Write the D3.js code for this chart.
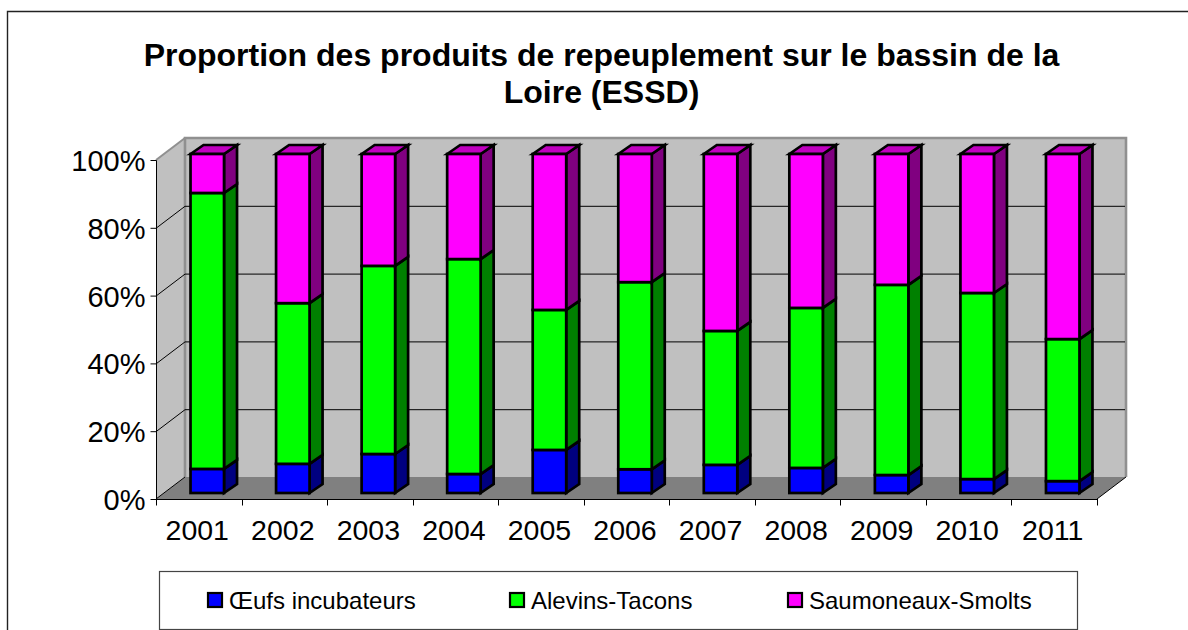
<!DOCTYPE html>
<html><head><meta charset="utf-8">
<script src="https://cdn.jsdelivr.net/npm/d3@7"></script>
<style>html,body{margin:0;padding:0;background:#fff;overflow:hidden}svg{display:block}text{font-family:"Liberation Sans",Arial,sans-serif;fill:#000}</style>
</head><body><svg id="c" width="1188" height="630"></svg>
<script>
const titleLines = ["Proportion des produits de repeuplement sur le bassin de la", "Loire (ESSD)"];
const years = ["2001","2002","2003","2004","2005","2006","2007","2008","2009","2010","2011"];
const seriesNames = ["Œufs incubateurs","Alevins-Tacons","Saumoneaux-Smolts"];
const oeufs = [7.1,8.6,11.5,5.6,12.7,7.0,8.3,7.4,5.3,4.1,3.5];
const alevins = [81.4,47.4,55.5,63.4,41.3,55.2,39.5,47.2,56.1,54.9,41.9];
const smolts = [11.5,44.0,33.0,31.0,46.0,37.8,52.2,45.4,38.6,41.0,54.6];
const faceColors = ["#0000ff","#00ff00","#ff00ff"];
const sideColors = ["#000080","#008000","#800080"];
const topColors = ["#0000c0","#00c000","#c000c0"];
const yTicks = [0,20,40,60,80,100];

const svg = d3.select("#c");
const x = d3.scaleBand().domain(years).range([156,1097]).paddingInner(0).paddingOuter(0);
const y = d3.scaleLinear().domain([0,100]).range([499,160]);
const depth = {x:29, y:-22};
const barOff = {x:8.5, y:-6};
const barDepth = {x:13, y:-9};
const barW = 33.5;
const stacks = [oeufs, alevins, smolts];

// chart frame: open on the right and at the bottom
svg.append("path").attr("d","M7.5,630V11.5H1188").attr("fill","none").attr("stroke","#222").attr("stroke-width",1.4);

// title
svg.append("g").selectAll("text").data(titleLines).join("text")
  .attr("x",601.5).attr("y",(d,i)=>66+i*37).attr("text-anchor","middle")
  .attr("font-size",32).attr("font-weight","bold").text(d=>d);

const x0=x.range()[0], x1=x.range()[1], yb=y(0), yt=y(100);
// walls
svg.append("path").attr("d",`M${x0},${yb}L${x0},${yt}L${x0+depth.x},${yt+depth.y}L${x0+depth.x},${yb+depth.y}Z`).attr("fill","#c0c0c0");
svg.append("rect").attr("x",x0+depth.x).attr("y",yt+depth.y).attr("width",x1-x0).attr("height",yb-yt).attr("fill","#c0c0c0");
svg.append("path").attr("d",`M${x0},${yb}L${x1},${yb}L${x1+depth.x},${yb+depth.y}L${x0+depth.x},${yb+depth.y}Z`).attr("fill","#808080");
// wall edges
svg.append("path").attr("d",`M${x0+depth.x},${yb+depth.y}V${yt+depth.y}H${x1+depth.x}V${yb+depth.y}`).attr("fill","none").attr("stroke","#909090").attr("stroke-width",2.6);
svg.append("path").attr("d",`M${x0},${yt}L${x0+depth.x},${yt+depth.y}`).attr("fill","none").attr("stroke","#909090").attr("stroke-width",2);
svg.append("path").attr("d",`M${x1},${yb}L${x1+depth.x},${yb+depth.y}`).attr("fill","none").attr("stroke","#000").attr("stroke-width",1);
// gridlines
svg.append("g").selectAll("path").data(yTicks.slice(1,-1)).join("path")
  .attr("d",d=>`M${x0},${y(d)+.5}L${x0+depth.x},${y(d)+depth.y+.5}H${x1+depth.x-1}`)
  .attr("fill","none").attr("stroke","#000").attr("stroke-width",1);
svg.append("path").attr("d",`M${x0},${yb}L${x0+depth.x},${yb+depth.y}`).attr("stroke","#000").attr("stroke-width",1);

// axes
const axY = d3.axisLeft(y).tickValues(yTicks).tickFormat(d=>d+"%").tickSize(6).tickPadding(5);
const gy = svg.append("g").attr("transform",`translate(${x0+.5},0)`).call(axY);
gy.selectAll("text").attr("font-size",29).attr("dy","0.36em").style("font-family",'"Liberation Sans",Arial,sans-serif');
gy.select(".domain").attr("d",`M0,${yt+.5}V${yb+.5}`).attr("stroke","#000");
const axX = d3.axisBottom(x).tickSizeOuter(0).tickSize(0);
const gx = svg.append("g").attr("transform",`translate(0,${yb+.5})`).call(axX);
gx.select(".domain").attr("d",`M${x0},0H${x1}`).attr("stroke","#000");
gx.selectAll("text").attr("font-size",28.5).attr("x",-1.5).attr("y",20).attr("dy","0.71em").style("font-family",'"Liberation Sans",Arial,sans-serif');
svg.append("g").selectAll("line").data(d3.range(years.length+1)).join("line")
  .attr("x1",i=>Math.round(x0+i*x.step())+.5).attr("x2",i=>Math.round(x0+i*x.step())+.5)
  .attr("y1",yb).attr("y2",yb+6.5).attr("stroke","#000");

// bars
const bars = svg.append("g");
years.forEach((yr,i)=>{
  const left = x(yr)+x.bandwidth()/2-barW/2+barOff.x;
  let acc = 0;
  stacks.forEach((vals,s)=>{
    const lo = acc, hi = acc+vals[i]; acc = hi;
    const yLo = y(lo)+barOff.y, yHi = y(hi)+barOff.y;
    const g = bars.append("g").attr("stroke","#000").attr("stroke-width",2.7).attr("stroke-linejoin","miter");
    g.append("path").attr("d",`M${left+barW},${yLo}L${left+barW+barDepth.x},${yLo+barDepth.y}V${yHi+barDepth.y}L${left+barW},${yHi}Z`).attr("fill",sideColors[s]);
    if(s===stacks.length-1) g.append("path").attr("d",`M${left},${yHi}L${left+barDepth.x},${yHi+barDepth.y}H${left+barW+barDepth.x}L${left+barW},${yHi}Z`).attr("fill",topColors[s]);
    g.append("rect").attr("x",left).attr("y",yHi).attr("width",barW).attr("height",yLo-yHi).attr("fill",faceColors[s]);
  });
});

// legend
svg.append("rect").attr("x",159.5).attr("y",571.5).attr("width",918).attr("height",58).attr("fill","#fff").attr("stroke","#444").attr("stroke-width",1.2);
const legendX = [208,510,788];
const leg = svg.append("g").selectAll("g").data(seriesNames).join("g").attr("transform",(d,i)=>`translate(${legendX[i]},593)`);
leg.append("rect").attr("width",14).attr("height",14).attr("fill",(d,i)=>faceColors[i]).attr("stroke","#000").attr("stroke-width",2.2);
leg.append("text").attr("x",21).attr("y",15.5).attr("font-size",24).text(d=>d);
</script></body></html>
